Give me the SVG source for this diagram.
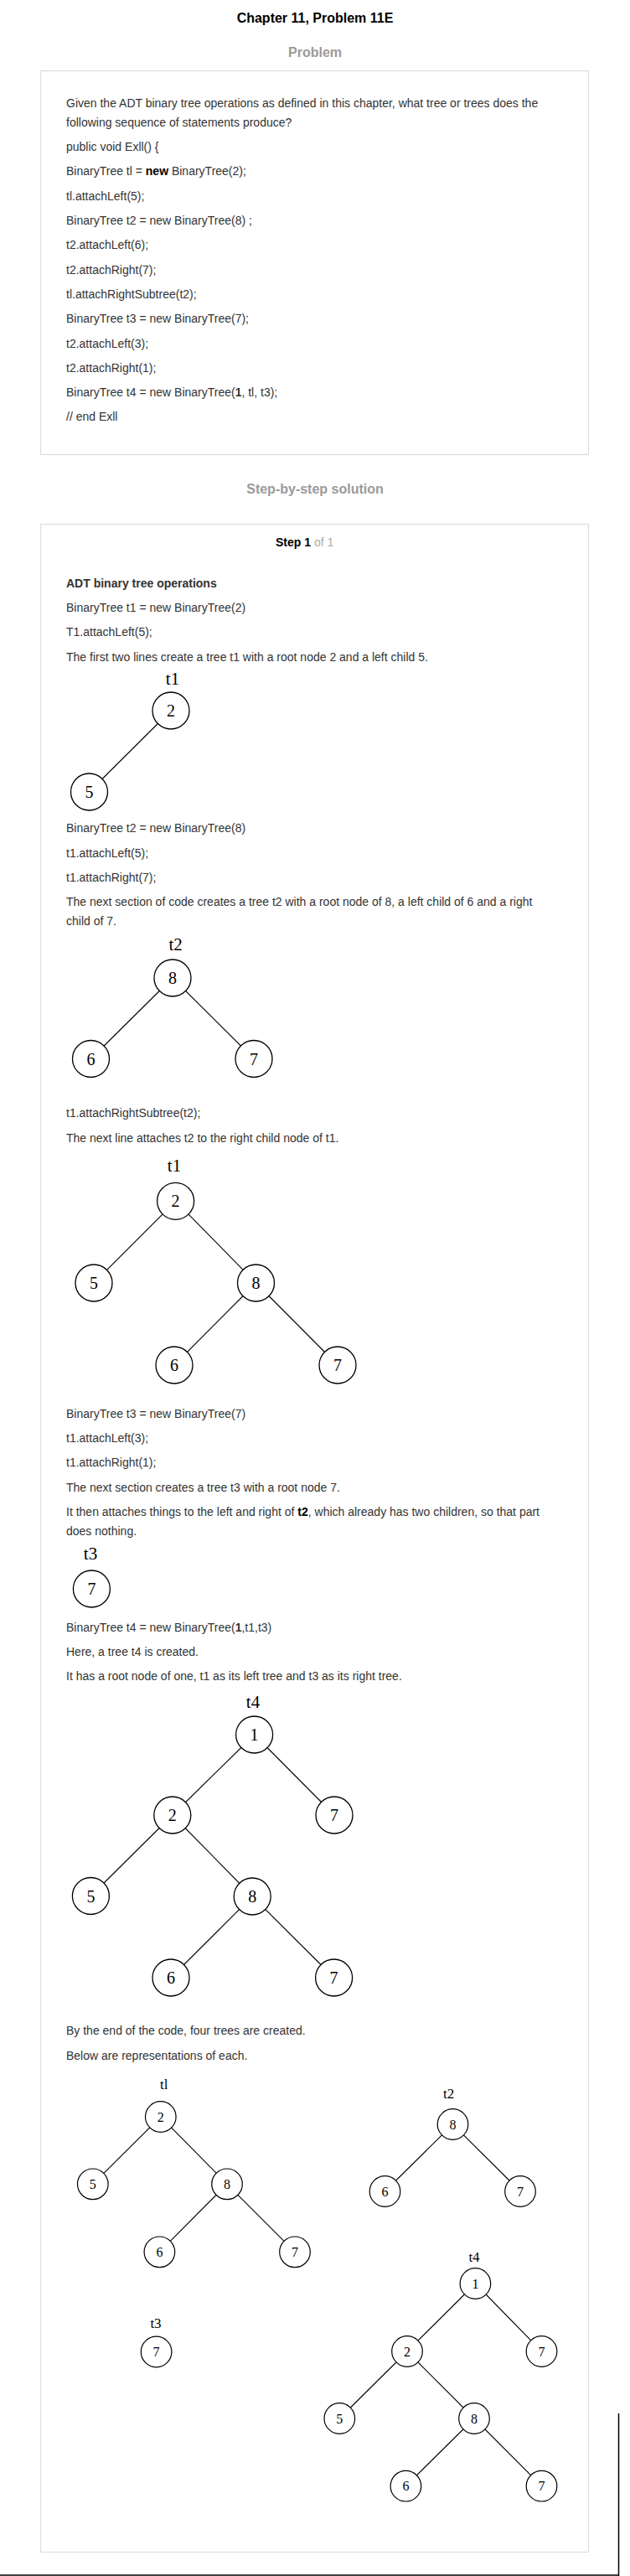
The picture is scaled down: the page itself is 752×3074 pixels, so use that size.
<svg xmlns="http://www.w3.org/2000/svg" width="752" height="3074" viewBox="0 0 752 3074">
<style>
.t{font-family:"Liberation Sans",Arial,sans-serif;font-size:14px;fill:#333}
.b{font-weight:bold}
.h{font-family:"Liberation Sans",Arial,sans-serif;font-size:16px;font-weight:bold;text-anchor:middle}
.g{fill:#9a9a9a}
.box{fill:#fff;stroke:#dddddd;stroke-width:1.2}
.e{stroke:#000;stroke-width:1.1}
.n circle{fill:#fff;stroke:#000;stroke-width:1.3}
.n text{font-family:"Liberation Serif","Times New Roman",serif;font-size:20px;text-anchor:middle;fill:#000}
.s circle{fill:#fff;stroke:#000;stroke-width:1.2}
.s text{font-family:"Liberation Serif","Times New Roman",serif;font-size:16px;text-anchor:middle;fill:#000}
.lbl{font-family:"Liberation Serif","Times New Roman",serif;font-size:21px;text-anchor:middle;fill:#000}
.lbs{font-family:"Liberation Serif","Times New Roman",serif;font-size:17px;text-anchor:middle;fill:#000}
</style>
<rect width="752" height="3074" fill="#fff"/>
<text class="h" x="376" y="27" fill="#000">Chapter 11, Problem 11E</text>
<text class="h g" x="376" y="68">Problem</text>
<rect class="box" x="48.5" y="84.5" width="654" height="458"/>
<g id="problem-text">
<text class="t" x="79" y="128">Given the ADT binary tree operations as defined in this chapter, what tree or trees does the</text>
<text class="t" x="79" y="150.7">following sequence of statements produce?</text>
<text class="t" x="79" y="180">public void Exll() {</text>
<text class="t" x="79" y="209.3">BinaryTree tl = <tspan class="b" fill="#000">new</tspan> BinaryTree(2);</text>
<text class="t" x="79" y="238.6">tl.attachLeft(5);</text>
<text class="t" x="79" y="268">BinaryTree t2 = new BinaryTree(8) ;</text>
<text class="t" x="79" y="297.3">t2.attachLeft(6);</text>
<text class="t" x="79" y="326.6">t2.attachRight(7);</text>
<text class="t" x="79" y="355.9">tl.attachRightSubtree(t2);</text>
<text class="t" x="79" y="385.2">BinaryTree t3 = new BinaryTree(7);</text>
<text class="t" x="79" y="414.5">t2.attachLeft(3);</text>
<text class="t" x="79" y="443.8">t2.attachRight(1);</text>
<text class="t" x="79" y="473.1">BinaryTree t4 = new BinaryTree(<tspan class="b">1</tspan>, tl, t3);</text>
<text class="t" x="79" y="502.4">// end Exll</text>
</g>
<text class="h g" x="376" y="589">Step-by-step solution</text>
<rect class="box" x="48.5" y="625.5" width="654" height="2420"/>
<text class="t" x="329" y="652.3"><tspan class="b" fill="#000">Step 1</tspan><tspan fill="#aaa"> of 1</tspan></text>
<g id="solution-text">
<text class="t b" x="79" y="700.7" fill="#000">ADT binary tree operations</text>
<text class="t" x="79" y="730">BinaryTree t1 = new BinaryTree(2)</text>
<text class="t" x="79" y="759.3">T1.attachLeft(5);</text>
<text class="t" x="79" y="788.6">The first two lines create a tree t1 with a root node 2 and a left child 5.</text>
<text class="t" x="79" y="993.3">BinaryTree t2 = new BinaryTree(8)</text>
<text class="t" x="79" y="1022.6">t1.attachLeft(5);</text>
<text class="t" x="79" y="1051.9">t1.attachRight(7);</text>
<text class="t" x="79" y="1081.3">The next section of code creates a tree t2 with a root node of 8, a left child of 6 and a right</text>
<text class="t" x="79" y="1104">child of 7.</text>
<text class="t" x="79" y="1333.3">t1.attachRightSubtree(t2);</text>
<text class="t" x="79" y="1362.6">The next line attaches t2 to the right child node of t1.</text>
<text class="t" x="79" y="1691.7">BinaryTree t3 = new BinaryTree(7)</text>
<text class="t" x="79" y="1721">t1.attachLeft(3);</text>
<text class="t" x="79" y="1750.3">t1.attachRight(1);</text>
<text class="t" x="79" y="1779.6">The next section creates a tree t3 with a root node 7.</text>
<text class="t" x="79" y="1808.9">It then attaches things to the left and right of <tspan class="b" fill="#000">t2</tspan>, which already has two children, so that part</text>
<text class="t" x="79" y="1831.6">does nothing.</text>
<text class="t" x="79" y="1947.3">BinaryTree t4 = new BinaryTree(<tspan class="b">1</tspan>,t1,t3)</text>
<text class="t" x="79" y="1976.3">Here, a tree t4 is created.</text>
<text class="t" x="79" y="2005.3">It has a root node of one, t1 as its left tree and t3 as its right tree.</text>
<text class="t" x="79" y="2428.3">By the end of the code, four trees are created.</text>
<text class="t" x="79" y="2457.6">Below are representations of each.</text>
</g>
<g id="tree-labels">
<text class="lbl" x="206" y="817">t1</text>
<text class="lbl" x="209.6" y="1134">t2</text>
<text class="lbl" x="208" y="1398">t1</text>
<text class="lbl" x="108" y="1861">t3</text>
<text class="lbl" x="302" y="2038">t4</text>
<text class="lbs" x="195.7" y="2493">tl</text>
<text class="lbs" x="535.7" y="2504">t2</text>
<text class="lbs" x="186" y="2778">t3</text>
<text class="lbs" x="566" y="2699">t4</text>
</g>
<g id="connectors">
<line class="e" x1="204" y1="848" x2="106.5" y2="945"/>
<line class="e" x1="206" y1="1167" x2="108.5" y2="1263.5"/>
<line class="e" x1="206" y1="1167" x2="303" y2="1263.5"/>
<line class="e" x1="209.6" y1="1433.3" x2="112" y2="1531"/>
<line class="e" x1="209.6" y1="1433.3" x2="305.5" y2="1531"/>
<line class="e" x1="305.5" y1="1531" x2="208" y2="1629"/>
<line class="e" x1="305.5" y1="1531" x2="403" y2="1629"/>
<line class="e" x1="303.6" y1="2070" x2="205.8" y2="2166"/>
<line class="e" x1="303.6" y1="2070" x2="399" y2="2166"/>
<line class="e" x1="205.8" y1="2166" x2="108.4" y2="2262.5"/>
<line class="e" x1="205.8" y1="2166" x2="301.2" y2="2263"/>
<line class="e" x1="301.2" y1="2263" x2="204" y2="2360"/>
<line class="e" x1="301.2" y1="2263" x2="398.6" y2="2360"/>
<line class="e" x1="191.8" y1="2526" x2="110.8" y2="2606.3"/>
<line class="e" x1="191.8" y1="2526" x2="271" y2="2606.3"/>
<line class="e" x1="271" y1="2606.3" x2="190.4" y2="2687.3"/>
<line class="e" x1="271" y1="2606.3" x2="352" y2="2687.3"/>
<line class="e" x1="540.5" y1="2535" x2="459.5" y2="2615"/>
<line class="e" x1="540.5" y1="2535" x2="621" y2="2615"/>
<line class="e" x1="567.4" y1="2725" x2="486" y2="2806"/>
<line class="e" x1="567.4" y1="2725" x2="646.5" y2="2806"/>
<line class="e" x1="486" y1="2806" x2="405.3" y2="2886"/>
<line class="e" x1="486" y1="2806" x2="566" y2="2886"/>
<line class="e" x1="566" y1="2886" x2="484.4" y2="2966.7"/>
<line class="e" x1="566" y1="2886" x2="646.5" y2="2966.7"/>
</g>
<g id="a2" class="n"><circle cx="204" cy="848" r="22"/><text x="204" y="855">2</text></g>
<g id="a5" class="n"><circle cx="106.5" cy="945" r="22"/><text x="106.5" y="952">5</text></g>
<g id="b8" class="n"><circle cx="206" cy="1167" r="22"/><text x="206" y="1174">8</text></g>
<g id="b6" class="n"><circle cx="108.5" cy="1263.5" r="22"/><text x="108.5" y="1270.5">6</text></g>
<g id="b7" class="n"><circle cx="303" cy="1263.5" r="22"/><text x="303" y="1270.5">7</text></g>
<g id="c2" class="n"><circle cx="209.6" cy="1433.3" r="22"/><text x="209.6" y="1440.3">2</text></g>
<g id="c5" class="n"><circle cx="112" cy="1531" r="22"/><text x="112" y="1538">5</text></g>
<g id="c8" class="n"><circle cx="305.5" cy="1531" r="22"/><text x="305.5" y="1538">8</text></g>
<g id="c6" class="n"><circle cx="208" cy="1629" r="22"/><text x="208" y="1636">6</text></g>
<g id="c7" class="n"><circle cx="403" cy="1629" r="22"/><text x="403" y="1636">7</text></g>
<g id="d7" class="n"><circle cx="109.4" cy="1896" r="22"/><text x="109.4" y="1903">7</text></g>
<g id="e1" class="n"><circle cx="303.6" cy="2070" r="22"/><text x="303.6" y="2077">1</text></g>
<g id="e2" class="n"><circle cx="205.8" cy="2166" r="22"/><text x="205.8" y="2173">2</text></g>
<g id="e7a" class="n"><circle cx="399" cy="2166" r="22"/><text x="399" y="2173">7</text></g>
<g id="e5" class="n"><circle cx="108.4" cy="2262.5" r="22"/><text x="108.4" y="2269.5">5</text></g>
<g id="e8" class="n"><circle cx="301.2" cy="2263" r="22"/><text x="301.2" y="2270">8</text></g>
<g id="e6" class="n"><circle cx="204" cy="2360" r="22"/><text x="204" y="2367">6</text></g>
<g id="e7b" class="n"><circle cx="398.6" cy="2360" r="22"/><text x="398.6" y="2367">7</text></g>
<g id="f1-2" class="s"><circle cx="191.8" cy="2526" r="18.3"/><text x="191.8" y="2531.5">2</text></g>
<g id="f1-5" class="s"><circle cx="110.8" cy="2606.3" r="18.3"/><text x="110.8" y="2611.8">5</text></g>
<g id="f1-8" class="s"><circle cx="271" cy="2606.3" r="18.3"/><text x="271" y="2611.8">8</text></g>
<g id="f1-6" class="s"><circle cx="190.4" cy="2687.3" r="18.3"/><text x="190.4" y="2692.8">6</text></g>
<g id="f1-7" class="s"><circle cx="352" cy="2687.3" r="18.3"/><text x="352" y="2692.8">7</text></g>
<g id="f2-8" class="s"><circle cx="540.5" cy="2535" r="18.3"/><text x="540.5" y="2540.5">8</text></g>
<g id="f2-6" class="s"><circle cx="459.5" cy="2615" r="18.3"/><text x="459.5" y="2620.5">6</text></g>
<g id="f2-7" class="s"><circle cx="621" cy="2615" r="18.3"/><text x="621" y="2620.5">7</text></g>
<g id="f3-7" class="s"><circle cx="186.6" cy="2806.5" r="18.3"/><text x="186.6" y="2812">7</text></g>
<g id="f4-1" class="s"><circle cx="567.4" cy="2725" r="18.3"/><text x="567.4" y="2730.5">1</text></g>
<g id="f4-2" class="s"><circle cx="486" cy="2806" r="18.3"/><text x="486" y="2811.5">2</text></g>
<g id="f4-7a" class="s"><circle cx="646.5" cy="2806" r="18.3"/><text x="646.5" y="2811.5">7</text></g>
<g id="f4-5" class="s"><circle cx="405.3" cy="2886" r="18.3"/><text x="405.3" y="2891.5">5</text></g>
<g id="f4-8" class="s"><circle cx="566" cy="2886" r="18.3"/><text x="566" y="2891.5">8</text></g>
<g id="f4-6" class="s"><circle cx="484.4" cy="2966.7" r="18.3"/><text x="484.4" y="2972.2">6</text></g>
<g id="f4-7b" class="s"><circle cx="646.5" cy="2966.7" r="18.3"/><text x="646.5" y="2972.2">7</text></g>
<line x1="0" y1="3073" x2="739" y2="3073" stroke="#000" stroke-width="1.5"/>
<line x1="738.5" y1="2880" x2="738.5" y2="3074" stroke="#000" stroke-width="1.5"/>
</svg>
